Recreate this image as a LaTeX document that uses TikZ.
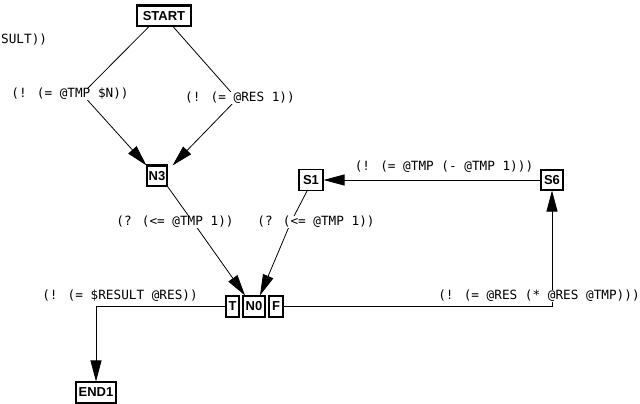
\documentclass[tikz,border=0pt]{standalone}
\usepackage{fontspec}
\setmainfont{Liberation Sans}
\newfontfamily\lblfont{DejaVu Sans Mono}
\usetikzlibrary{arrows.meta}
\begin{document}
\begin{tikzpicture}[x=1pt,y=-1pt,
  box/.style={draw, line width=1.1pt, font=\fontsize{13}{15}\selectfont\bfseries, inner sep=0pt, minimum height=20pt},
  lbl/.style={fill=white, inner sep=0.5pt, font=\lblfont\fontsize{12.7}{14}\selectfont},
  conn/.style={line width=0.8pt},
  arr/.style={conn, -{Triangle[length=21pt,width=11pt]}}]
\useasboundingbox (0,0) rectangle (640,404);
% boxes
\node[box, minimum width=54pt] (start) at (164,16) {START};
\node[box, minimum width=20pt] (n3) at (157,176) {N3};
\node[box, minimum width=24pt, minimum height=21pt] (s1) at (311,180) {S1};
\node[box, minimum width=22pt] (s6) at (552,180) {S6};
\node[box, minimum width=13pt, minimum height=21pt] (t) at (232.5,306.5) {T};
\node[box, minimum width=22pt, minimum height=21pt] (n0) at (254,306.5) {N0};
\node[box, minimum width=14pt, minimum height=21pt] (f) at (276,306.5) {F};
\node[box, minimum width=40pt, minimum height=21pt] (end1) at (96,392.5) {END1};
\draw[line width=2.2pt] (start.north west) -- (start.north east);
\draw[line width=1.8pt] (start.south west) -- (start.south east);
\draw[line width=2.2pt] (n3.north west) -- (n3.north east);
% bend points
\coordinate (b1) at (82,94);
\coordinate (b2) at (237,99);
\coordinate (b3) at (193,222);
\coordinate (b4) at (291,222);
% connectors
\draw[arr] ([xshift=-15pt]start.south) -- (b1) -- (n3.north west);
\draw[arr] ([xshift=9pt]start.south) -- (b2) -- ([xshift=5pt]n3.north east);
\draw[arr] (n3.south east) -- (b3) -- ([xshift=-9pt]n0.north);
\draw[arr] ([xshift=-4pt]s1.south) -- (b4) -- ([xshift=6pt]n0.north);
\draw[arr] (s6.west) -- (s1.east);
\draw[arr] (f.east) -| (s6.south);
\draw[arr] (t.west) -| (end1.north);
% labels
\node[lbl, anchor=west] (l0) at (0.5,40) {SULT))};
\node[lbl] (l1) at (70,94) {(! (= @TMP \$N))};
\node[lbl] (l2) at (240,98) {(! (= @RES 1))};
\node[lbl] (l3) at (175,222) {(? (<= @TMP 1))};
\node[lbl] (l4) at (316,222) {(? (<= @TMP 1))};
\node[lbl] (l5) at (444,167) {(! (= @TMP (- @TMP 1)))};
\node[lbl] (l6) at (539,296) {(! (= @RES (* @RES @TMP)))};
\node[lbl] (l7) at (120,296) {(! (= \$RESULT @RES))};
\end{tikzpicture}
\end{document}
